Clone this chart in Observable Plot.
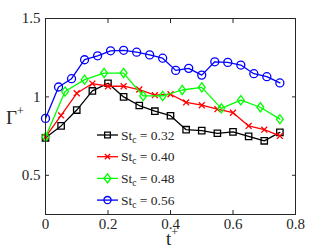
<!DOCTYPE html>
<html><head><meta charset="utf-8">
<script src="https://cdn.jsdelivr.net/npm/d3@7"></script>
<script src="https://cdn.jsdelivr.net/npm/@observablehq/plot@0.6"></script>
<style>
body{margin:0;background:#fff}
#chart{width:327px;height:248px}
</style>
</head><body><div id="chart"></div>
<script>
// ---- data ----
const tStep05 = [0,0.05,0.1,0.15,0.2,0.25,0.3,0.35,0.4,0.45,0.5,0.55,0.6,0.65,0.7,0.75];
const gamma032 = [0.739,0.815,0.916,1.038,1.087,1.000,0.945,0.909,0.880,0.791,0.785,0.768,0.777,0.748,0.720,0.774];
const gamma040 = [0.745,0.882,1.023,1.085,1.068,1.068,1.047,1.011,1.017,0.965,0.947,0.922,0.899,0.815,0.791,0.751];
const tStep0625 = [0,0.0625,0.125,0.1875,0.25,0.3125,0.375,0.4375,0.5,0.5625,0.625,0.6875,0.75];
const gamma048 = [0.745,1.034,1.110,1.152,1.152,1.006,1.006,1.044,1.061,0.927,0.979,0.934,0.858];
const tStep0417 = [0,0.0417,0.0833,0.125,0.1667,0.2083,0.25,0.2917,0.3333,0.375,0.4167,0.4583,0.5,0.5417,0.5833,0.625,0.6667,0.7083,0.75];
const gamma056 = [0.863,1.063,1.116,1.237,1.262,1.294,1.297,1.285,1.268,1.247,1.169,1.182,1.139,1.224,1.220,1.203,1.148,1.129,1.089];

const seriesNames = ["0.32","0.40","0.48","0.56"];
const seriesColors = ["#000000","#ff0000","#00ff00","#0000ff"];
const xTicks = [0,0.2,0.4,0.6,0.8];
const yTicks = [0.5,1,1.5];

const diamondSym = {draw(ctx){const w=3.4,h=4.6;ctx.moveTo(0,-h);ctx.lineTo(w,0);ctx.lineTo(0,h);ctx.lineTo(-w,0);ctx.closePath();}};
const seriesSymbols = ["square","times",diamondSym,"circle"];
const seriesR = [3.6,2.8,4,4];

const rows = (ts, vs, k) => ts.map((t,i)=>({t, v: vs[i], s: seriesNames[k]}));
const series = [
  rows(tStep05, gamma032, 0),
  rows(tStep05, gamma040, 1),
  rows(tStep0625, gamma048, 2),
  rows(tStep0417, gamma056, 3)
];

const serif = "'Liberation Serif', 'DejaVu Serif', serif";
const axCol = "#262626";

const marks = [];
series.forEach((d,k)=>{
  marks.push(Plot.line(d,{x:"t",y:"v",stroke:seriesColors[k],strokeWidth:1.3}));
  marks.push(Plot.dot(d,{x:"t",y:"v",stroke:seriesColors[k],fill:"none",symbol:seriesSymbols[k],r:seriesR[k],strokeWidth:1.3}));
});

const chart = Plot.plot({
  width: 327, height: 248,
  marginLeft: 45, marginRight: 32, marginTop: 18, marginBottom: 34,
  style: {fontFamily: serif, background: "#fff", overflow: "visible"},
  x: {domain:[0,0.8]},
  y: {domain:[0.25,1.5]},
  marks: [
    ...marks,
    Plot.frame({stroke: axCol, strokeWidth: 1}),
    Plot.axisX({anchor:"bottom", ticks:xTicks, tickSize:-4, tickPadding:8, tickFormat:d=>String(d), fontSize:15, color:axCol, label:null}),
    Plot.axisX({anchor:"top", ticks:xTicks, tickSize:-4, tickFormat:()=>"", color:axCol, label:null}),
    Plot.axisY({anchor:"left", ticks:yTicks, tickSize:-4, tickPadding:9, tickFormat:d=>String(d), fontSize:15, color:axCol, label:null}),
    Plot.axisY({anchor:"right", ticks:yTicks, tickSize:-4, tickFormat:()=>"", color:axCol, label:null})
  ]
});
document.getElementById("chart").appendChild(chart);

// ---- axis titles and legend ----
const svg = d3.select(chart);
const yl = svg.append("text").attr("x",6).attr("y",124).attr("text-anchor","start").attr("font-family",serif).attr("font-size",19).attr("fill",axCol);
yl.append("tspan").text("Γ");
yl.append("tspan").attr("dy",-9).attr("font-size",12).text("+");
const xl = svg.append("text").attr("x",166).attr("y",245).attr("text-anchor","start").attr("font-family",serif).attr("font-size",19).attr("fill",axCol);
xl.append("tspan").text("t");
xl.append("tspan").attr("dy",-9).attr("font-size",12).text("+");

const lg = svg.append("g");
seriesNames.forEach((name,k)=>{
  const cy = 135 + k*21.7;
  const g = lg.append("g");
  g.append("line").attr("x1",97).attr("x2",118).attr("y1",cy).attr("y2",cy).attr("stroke",seriesColors[k]).attr("stroke-width",1.3);
  const sym = typeof seriesSymbols[k] === "string"
    ? {square:d3.symbolSquare,times:d3.symbolTimes,circle:d3.symbolCircle}[seriesSymbols[k]]
    : seriesSymbols[k];
  g.append("path").attr("transform",`translate(107.5,${cy})`)
    .attr("d", d3.symbol(sym, Math.PI*seriesR[k]*seriesR[k]*0.8)())
    .attr("fill","none").attr("stroke",seriesColors[k]).attr("stroke-width",1.3);
  const tx = g.append("text").attr("x",121).attr("y",cy+4.5).attr("text-anchor","start").attr("font-family",serif).attr("font-size",13.5).attr("fill",axCol);
  tx.append("tspan").text("St");
  tx.append("tspan").attr("dy",3).attr("font-size",9.5).text("c");
  tx.append("tspan").attr("dy",-3).text(" = " + name);
});
</script>
</body></html>
